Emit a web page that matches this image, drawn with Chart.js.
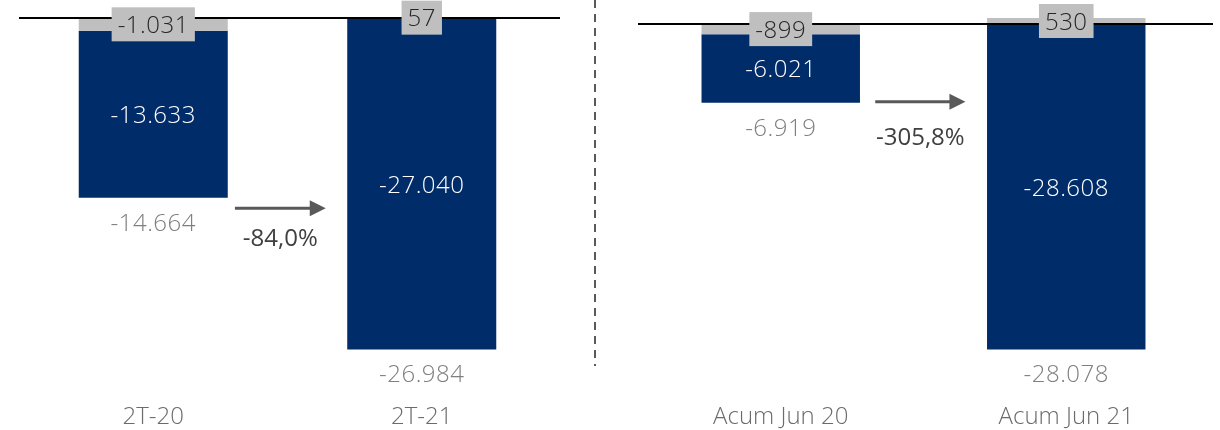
<!DOCTYPE html>
<html>
<head>
<meta charset="utf-8">
<script src="https://cdn.jsdelivr.net/npm/chart.js@4/dist/chart.umd.min.js"></script>
<style>
  html, body { margin: 0; padding: 0; background: #fff; }
  #wrap { position: relative; width: 1220px; height: 430px; overflow: hidden; }
  #trimestre { position: absolute; left: 0; top: 0; }
  #acumulado { position: absolute; left: 600px; top: 0; }
  #separador { position: absolute; left: 0; top: 0; }
</style>
</head>
<body>
<div id="wrap">
  <canvas id="trimestre" width="596" height="430"></canvas>
  <canvas id="acumulado" width="620" height="430"></canvas>
  <svg id="separador" width="1220" height="430">
    <line x1="595" y1="0" x2="595" y2="366" stroke="#595959" stroke-width="2" stroke-dasharray="8 6"/>
  </svg>
</div>
<script>
// datos trimestre
const categoriasTrim = ['2T-20', '2T-21'];
const ajusteTrim = [-1031, 57];
const baseTrim = [-13633, -27040];
const totalTrim = [-14664, -26984];
const variacionTrim = '-84,0%';

// datos acumulado
const categoriasAcum = ['Acum Jun 20', 'Acum Jun 21'];
const ajusteAcum = [-899, 530];
const baseAcum = [-6021, -28608];
const totalAcum = [-6919, -28078];
const variacionAcum = '-305,8%';

const AZUL = '#002d6a';
const GRIS = '#bfbfbf';
const FUENTE = "'Open Sans', 'Noto Sans', sans-serif";

function formato(n) {
  const s = Math.abs(n).toString().replace(/\B(?=(\d{3})+(?!\d))/g, '.');
  return (n < 0 ? '-' : '') + s;
}

// etiquetas, linea de cero y flecha
const etiquetasPlugin = {
  id: 'etiquetas',
  afterDatasetsDraw(chart, args, opts) {
    const ctx = chart.ctx;
    const area = chart.chartArea;
    const y = chart.scales.y;
    const gris = chart.getDatasetMeta(0).data;
    const azul = chart.getDatasetMeta(1).data;

    ctx.save();
    // linea de cero
    const y0 = Math.round(y.getPixelForValue(0));
    ctx.strokeStyle = '#000';
    ctx.lineWidth = 2;
    ctx.beginPath();
    ctx.moveTo(area.left, y0);
    ctx.lineTo(area.right + 4, y0);
    ctx.stroke();

    ctx.textAlign = 'center';
    ctx.textBaseline = 'middle';
    ctx.letterSpacing = '0.5px';

    // valores dentro de las barras azules
    ctx.font = '300 24px ' + FUENTE;
    ctx.fillStyle = '#fff';
    azul.forEach((el, i) => {
      ctx.fillText(formato(opts.base[i]), el.x, (el.y + el.base) / 2 + 2);
    });

    // totales debajo
    ctx.fillStyle = '#7f7f7f';
    azul.forEach((el, i) => {
      const fondo = Math.max(el.y, el.base);
      ctx.fillText(formato(opts.total[i]), el.x, fondo + 26);
    });

    // ajustes en caja gris
    gris.forEach((el, i) => {
      const txt = formato(opts.ajuste[i]);
      const w = ctx.measureText(txt).width + 12;
      const h = 34;
      const cy = (el.y + el.base) / 2;
      ctx.fillStyle = GRIS;
      ctx.fillRect(el.x - w / 2, cy - h / 2, w, h);
      ctx.fillStyle = '#262626';
      ctx.fillText(txt, el.x, cy + 2);
    });

    // flecha de variacion
    const a = opts.flecha;
    const b0 = azul[0], b1 = azul[1];
    const desde = b0.x + b0.width / 2;
    const hasta = b1.x - b1.width / 2;
    const x1 = desde + (hasta - desde) * a.inicio;
    const x2 = desde + (hasta - desde) * a.fin;
    const fy = y.getPixelForValue(a.valor);
    ctx.strokeStyle = '#595959';
    ctx.fillStyle = '#595959';
    ctx.lineWidth = 3;
    ctx.beginPath();
    ctx.moveTo(x1, fy);
    ctx.lineTo(x2 - 14, fy);
    ctx.stroke();
    ctx.beginPath();
    ctx.moveTo(x2, fy);
    ctx.lineTo(x2 - 16, fy - 8);
    ctx.lineTo(x2 - 16, fy + 8);
    ctx.closePath();
    ctx.fill();

    ctx.letterSpacing = '0px';
    ctx.font = '500 24px ' + FUENTE;
    ctx.fillStyle = '#404040';
    ctx.fillText(a.texto, (x1 + x2) / 2, fy + a.bajada);
    ctx.restore();
  }
};

function crearGrafico(id, categorias, ajuste, base, total, rango, padding, flecha) {
  return new Chart(document.getElementById(id), {
    type: 'bar',
    data: {
      labels: categorias,
      datasets: [
        { label: 'Ajuste', data: ajuste, backgroundColor: GRIS },
        { label: 'Base', data: base, backgroundColor: AZUL }
      ]
    },
    options: {
      responsive: false,
      animation: false,
      devicePixelRatio: 1,
      layout: { padding: padding },
      datasets: { bar: { barPercentage: 0.555, categoryPercentage: 1 } },
      plugins: {
        legend: { display: false },
        tooltip: { enabled: false },
        etiquetas: { ajuste, base, total, flecha }
      },
      scales: {
        x: {
          stacked: true,
          grid: { display: false, drawTicks: false },
          border: { display: false },
          ticks: { color: '#6b6b6b', padding: 33, font: { family: FUENTE, size: 24, weight: 300 } },
          afterFit(s) { s.height = 60; }
        },
        y: { stacked: true, display: false, min: rango[0], max: rango[1] }
      }
    },
    plugins: [etiquetasPlugin]
  });
}

crearGrafico('trimestre', categoriasTrim, ajusteTrim, baseTrim, totalTrim,
  [-28723, 1469], { left: 19, right: 40, top: 0, bottom: 0 },
  { valor: -15530, inicio: 0.06, fin: 0.82, texto: variacionTrim, bajada: 31 });

crearGrafico('acumulado', categoriasAcum, ajusteAcum, baseAcum, totalAcum,
  [-30418, 2110], { left: 38, right: 11, top: 0, bottom: 0 },
  { valor: -6830, inicio: 0.12, fin: 0.83, texto: variacionAcum, bajada: 36 });
</script>
</body>
</html>
